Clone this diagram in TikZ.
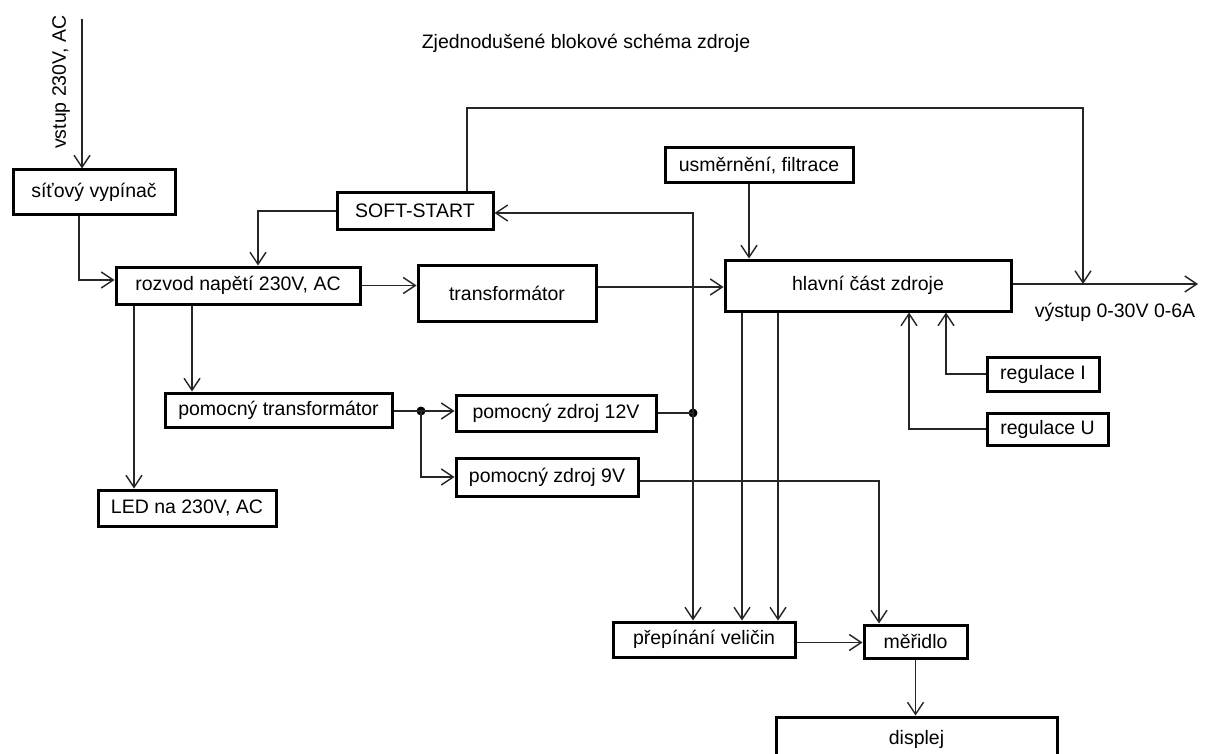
\documentclass[tikz,border=0pt]{standalone}
\usepackage{fontspec}
\setmainfont{Liberation Sans}
\usetikzlibrary{arrows.meta,calc}

\begin{document}
\begin{tikzpicture}[x=1pt,y=-1pt,
  blk/.style={draw=black, line width=3pt, fill=white, inner sep=0pt,
              font=\fontsize{19.5}{22}\selectfont},
  wire/.style={draw=black!85, line width=1.4pt},
  arr/.style={wire, -{Straight Barb[length=12pt,width=16pt]}},
  lbl/.style={font=\fontsize{19.5}{22}\selectfont, inner sep=0pt},
  junction/.style={circle, fill=black, inner sep=0pt, minimum size=9pt}]

% page frame
\clip (0,0) rectangle (1207,754);
\fill[white] (0,0) rectangle (1207,754);

% title
\node[lbl] (title) at (586,43) {Zjednodušené blokové schéma zdroje};

% blocks
\node[blk, minimum width=162, minimum height=45] (vypin)   at (94,192.5)   {síťový vypínač};
\node[blk, minimum width=244, minimum height=37] (rozvod)  at (238,285.5)  {rozvod napětí 230V, AC};
\node[blk, minimum width=156, minimum height=36] (soft)    at (415,211)    {SOFT-START};
\node[blk, minimum width=178, minimum height=56] (transf)  at (507,293)    {transformátor};
\node[blk, minimum width=188, minimum height=35] (usm)     at (759,165.5)  {usměrnění, filtrace};
\node[blk, minimum width=286, minimum height=51] (hlavni)  at (868,285.5)  {hlavní část zdroje};
\node[blk, minimum width=227, minimum height=34] (ptrans)  at (278.5,410)  {pomocný transformátor};
\node[blk, minimum width=200, minimum height=36] (z12)     at (556,413)    {pomocný zdroj 12V};
\node[blk, minimum width=182, minimum height=38] (z9)      at (547,477)    {pomocný zdroj 9V};
\node[blk, minimum width=178, minimum height=36] (led)     at (187,508)    {LED na 230V, AC};
\node[blk, minimum width=112, minimum height=34] (regI)    at (1043,374)   {regulace I};
\node[blk, minimum width=121, minimum height=32] (regU)    at (1047.5,429) {regulace U};
\node[blk, minimum width=182, minimum height=35] (prep)    at (704,639.5)  {přepínání veličin};
\node[blk, minimum width=103, minimum height=33] (meridlo) at (915.5,641.5) {měřidlo};
\node[blk, minimum width=281, minimum height=44] (displej) at (916.5,739)  {displej};

% free ends and junctions
\coordinate (in)       at (82,19);
\coordinate (out)      at (1198,284);
\coordinate (topright) at (1083,108);
\coordinate (outjoin)  at (1083,284);
\node[junction] (dot1) at (421,411) {};
\node[junction] (dot2) at (693,413) {};

% labels
\node[lbl, rotate=90] (inlbl) at (61,82) {vstup 230V, AC};
\node[lbl] (outlbl) at (1115,312) {výstup 0-30V 0-6A};

% mains path
\draw[arr] (in) -- (in |- vypin.north);
\draw[arr] ([xshift=-15pt]vypin.south) |- ([yshift=5.5pt]rozvod.west);
\draw[arr] (soft.west) -| ([xshift=20pt]rozvod.north);
\draw[arr] (rozvod.east) -- (rozvod.east -| transf.west);
\draw[arr] ([yshift=6pt]transf.east) -- ([yshift=6pt]transf.east -| hlavni.west);
\draw[arr] ([xshift=-10pt]usm.south) -- ([xshift=-10pt]usm.south |- hlavni.north);

% output and feedback to the soft-start
\draw[arr] ([yshift=1.5pt]hlavni.east) -- (out);
\draw[arr] ([xshift=52pt]soft.north) |- (topright) -- (outjoin);

% regulation inputs
\draw[arr] (regI.west) -| ([xshift=78pt]hlavni.south);
\draw[arr] (regU.west) -| ([xshift=41pt]hlavni.south);

% measured quantities
\draw[arr] ([xshift=-126pt]hlavni.south) -- ([xshift=-126pt]hlavni.south |- prep.north);
\draw[arr] ([xshift=-90pt]hlavni.south) -- ([xshift=-90pt]hlavni.south |- prep.north);

% auxiliary supplies
\draw[arr] ([xshift=-104pt]rozvod.south) -- ([xshift=-104pt]rozvod.south |- led.north);
\draw[arr] ([xshift=-46pt]rozvod.south) -- ([xshift=-46pt]rozvod.south |- ptrans.north);
\draw[wire] (ptrans.east |- dot1) -- (dot1.center);
\draw[arr] (dot1.center) -- (dot1 -| z12.west);
\draw[arr] (dot1.center) |- (z9.west);
\draw[wire] (z12.east) -- (dot2.center);
\draw[arr] (dot2.center) |- ([yshift=-2pt]soft.east);
\draw[arr] (dot2.center) -- (dot2 |- prep.north);
\draw[arr] ([yshift=-4pt]z9.east) -| ([xshift=-36.5pt]meridlo.north);

% metering
\draw[arr] ([yshift=-3pt]prep.east) -- ([yshift=-3pt]prep.east -| meridlo.west);
\draw[arr] (meridlo.south) -- (meridlo.south |- displej.north);
\end{tikzpicture}
\end{document}
